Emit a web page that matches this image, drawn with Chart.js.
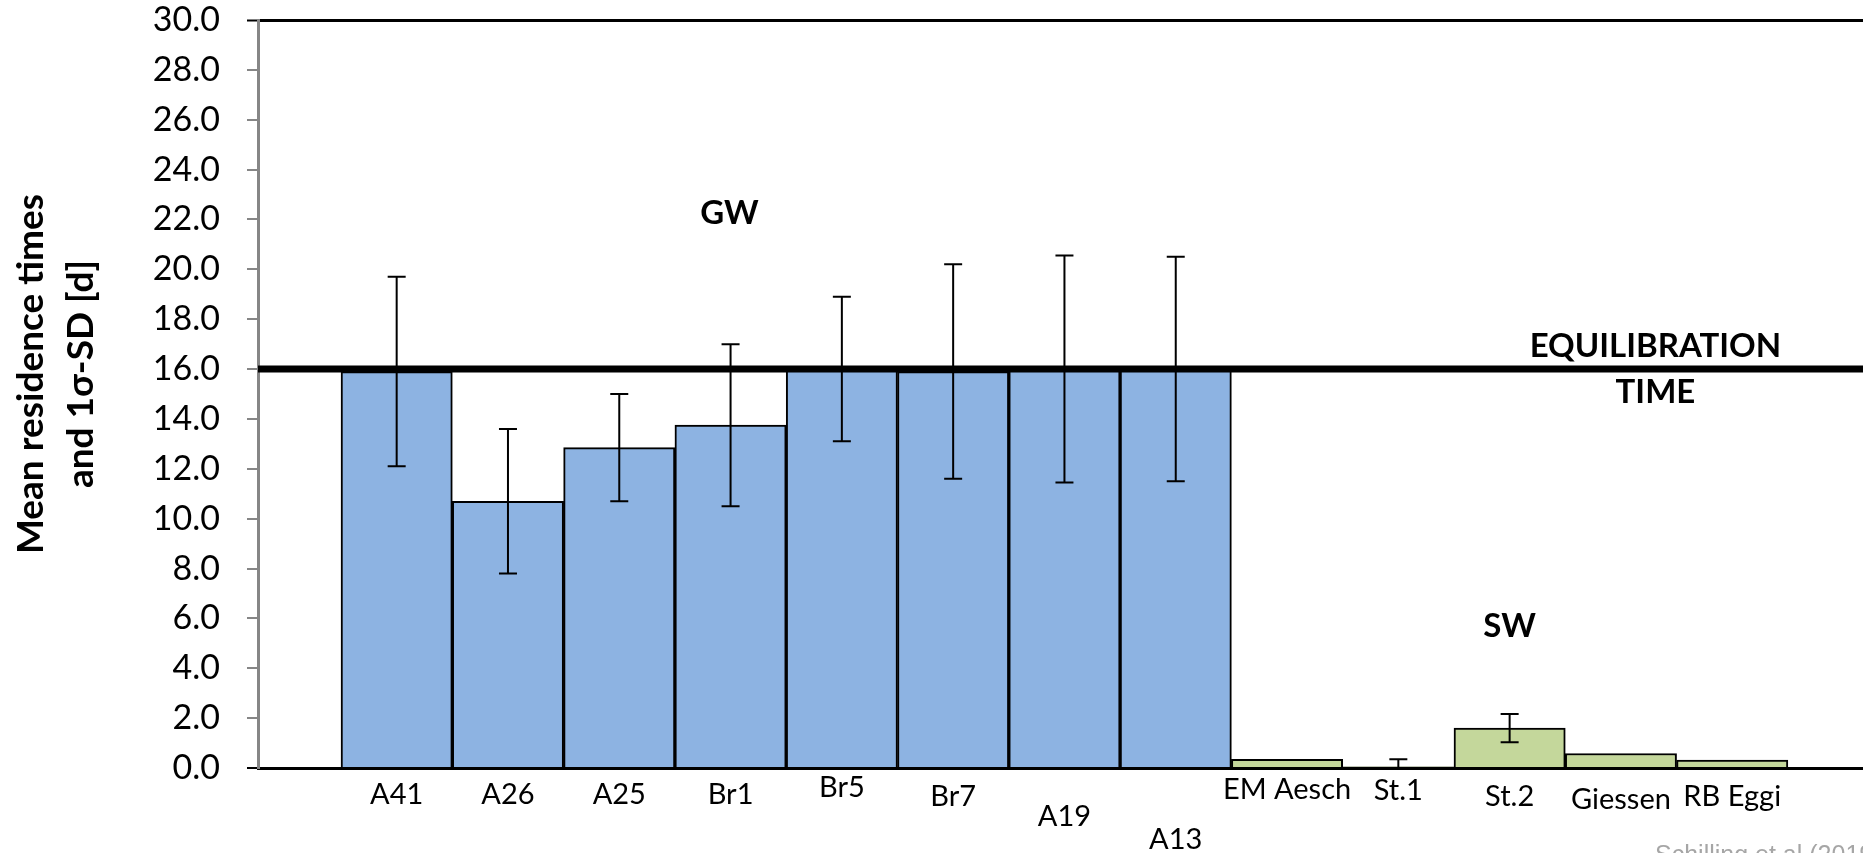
<!DOCTYPE html>
<html>
<head>
<meta charset="utf-8">
<script src="https://cdn.jsdelivr.net/npm/chart.js@4.4.1/dist/chart.umd.min.js"></script>
<style>
  html, body { margin: 0; padding: 0; background: #fff; }
  #wrap { width: 1863px; height: 853px; position: relative; }
</style>
</head>
<body>
<div id="wrap"><canvas id="chart" width="1863" height="853"></canvas></div>
<script>
// ---- data ----
const sites = ['A41', 'A26', 'A25', 'Br1', 'Br5', 'Br7', 'A19', 'A13', 'EM Aesch', 'St.1', 'St.2', 'Giessen', 'RB Eggi'];
const waterType = ['GW', 'GW', 'GW', 'GW', 'GW', 'GW', 'GW', 'GW', 'SW', 'SW', 'SW', 'SW', 'SW'];
const meanDays = [15.9, 10.7, 12.85, 13.75, 16.0, 15.9, 16.0, 16.0, 0.35, 0.05, 1.6, 0.58, 0.32];
const sdDays = [3.8, 2.9, 2.15, 3.25, 2.9, 4.3, 4.55, 4.5, 0, 0.3, 0.57, 0, 0];
const yMin = 0, yMax = 30, yStep = 2;
const equilibrationTime = 16;
const yTitle = ['Mean residence times', 'and 1\u03c3-SD [d]'];

const colours = { GW: '#8db3e2', SW: '#c4d79b' };

// x range of the plot (in bar index units, bars sit at 1..13)
const X_MIN = -0.246, X_MAX = 14.175;

// small vertical nudges of the category labels, as in the original figure
const labelNudge = { 'Br5': -7, 'Br7': 2, 'A19': 22, 'A13': 45, 'EM Aesch': -5, 'St.1': -4, 'St.2': 2, 'Giessen': 5, 'RB Eggi': 2 };

const barPoints = sites.map((s, i) => ({ x: i + 1, y: meanDays[i] }));

// error bars
const errorBars = {
  id: 'errorBars',
  afterDatasetsDraw(chart) {
    const { ctx, chartArea, scales: { x, y } } = chart;
    ctx.save();
    ctx.beginPath();
    ctx.rect(chartArea.left, chartArea.top, chartArea.right - chartArea.left, chartArea.bottom - chartArea.top - 1);
    ctx.clip();
    ctx.strokeStyle = '#000';
    ctx.lineWidth = 2;
    sdDays.forEach((sd, i) => {
      if (!sd) return;
      const px = x.getPixelForValue(i + 1);
      const top = y.getPixelForValue(meanDays[i] + sd);
      const bot = y.getPixelForValue(meanDays[i] - sd);
      ctx.beginPath();
      ctx.moveTo(px, top); ctx.lineTo(px, bot);
      ctx.moveTo(px - 9, top); ctx.lineTo(px + 9, top);
      ctx.moveTo(px - 9, bot); ctx.lineTo(px + 9, bot);
      ctx.stroke();
    });
    ctx.restore();
  }
};

// category labels, axis title + text annotations
const annotations = {
  id: 'annotations',
  afterDraw(chart) {
    const { ctx, scales: { x, y } } = chart;
    ctx.save();
    ctx.fillStyle = '#000';
    ctx.textAlign = 'center';
    ctx.textBaseline = 'middle';
    ctx.font = '29px Lato';
    sites.forEach((s, i) => {
      ctx.fillText(s, x.getPixelForValue(i + 1), 795 + (labelNudge[s] || 0));
    });
    ctx.font = 'bold 33px Lato';
    ctx.fillText('GW', x.getPixelForValue(3.99), y.getPixelForValue(22.26));
    ctx.fillText('SW', x.getPixelForValue(11), y.getPixelForValue(5.7));
    ctx.fillText('EQUILIBRATION', x.getPixelForValue(12.31), y.getPixelForValue(16.93));
    ctx.fillText('TIME', x.getPixelForValue(12.31), y.getPixelForValue(15.05));

    // rotated y axis title
    ctx.font = 'bold 37px Lato';
    ctx.textBaseline = 'alphabetic';
    yTitle.forEach((line, i) => {
      ctx.save();
      ctx.translate(43 + i * 50, 374);
      ctx.rotate(-Math.PI / 2);
      ctx.fillText(line, 0, 0);
      ctx.restore();
    });

    ctx.font = '25px "Liberation Sans"';
    ctx.fillStyle = '#a6a6a6';
    ctx.textAlign = 'left';
    ctx.fillText('Schilling et al (2019)', 1655, 863);
    ctx.restore();
  }
};

new Chart(document.getElementById('chart'), {
  type: 'bar',
  data: {
    datasets: [
      {
        type: 'line',
        label: 'Equilibration time',
        data: [{ x: X_MIN, y: equilibrationTime }, { x: X_MAX, y: equilibrationTime }],
        borderColor: '#000',
        borderWidth: 7,
        pointRadius: 0
      },
      {
        label: 'Mean residence time',
        data: barPoints,
        backgroundColor: waterType.map(t => colours[t]),
        borderColor: '#000',
        borderWidth: 2,
        categoryPercentage: 1,
        barPercentage: 1
      }
    ]
  },
  plugins: [errorBars, annotations],
  options: {
    responsive: false,
    animation: false,
    layout: { padding: { top: 20, right: 0, left: 0, bottom: 0 } },
    plugins: { legend: { display: false }, tooltip: { enabled: false } },
    scales: {
      x: {
        type: 'linear',
        offset: false,
        min: X_MIN,
        max: X_MAX,
        ticks: { display: false },
        grid: { display: false, offset: false },
        border: { display: true, color: '#000', width: 3 },
        afterFit: s => { s.height = 85; }
      },
      y: {
        min: yMin,
        max: yMax,
        ticks: {
          stepSize: yStep,
          padding: 27,
          color: '#000',
          font: { family: 'Lato', size: 34 },
          callback: v => v.toFixed(1)
        },
        grid: {
          tickLength: 11,
          lineWidth: c => (c.tick && c.tick.value === yMax ? 3 : 2),
          color: c => (c.tick && c.tick.value === yMax ? '#000' : 'rgba(0,0,0,0)'),
          tickColor: c => (c.tick && (c.tick.value === yMax || c.tick.value === yMin) ? '#000' : '#868686'),
          tickWidth: 2
        },
        border: { display: true, color: '#868686', width: 3 },
        title: { display: false },
        afterFit: s => { s.width = 258; s.paddingTop = 0; s.paddingBottom = 0; }
      }
    }
  }
});
</script>
</body>
</html>
